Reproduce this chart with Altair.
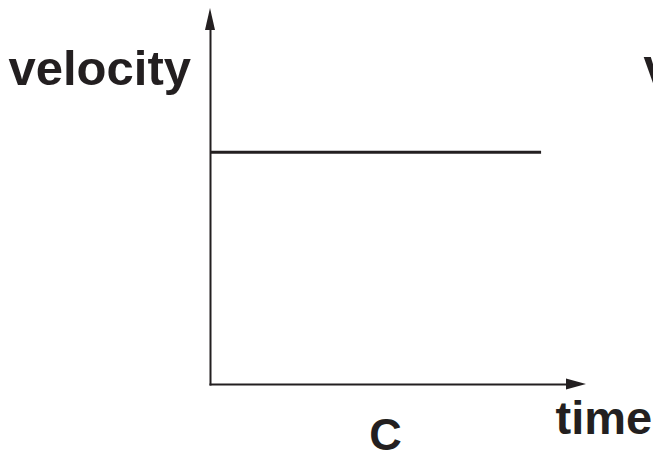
import altair as alt
import pandas as pd

# ---- data ----
time_values = [0.0, 9.3]          # constant-velocity segment, start and end time
velocity_values = [6.55, 6.55]    # velocity stays constant
time_range = [0, 10]              # extent of the time axis (up to arrowhead)
velocity_range = [0, 10]          # extent of the velocity axis (up to arrowhead)
y_title = "velocity"
x_title = "time"
panel_label = "C"
next_panel_title = "velocity"

INK = "#231f20"
FONT = "Liberation Sans"

line_df = pd.DataFrame({"time": time_values, "velocity": velocity_values})
up_df = pd.DataFrame({"time": [time_range[0]], "velocity": [velocity_range[1]]})
right_df = pd.DataFrame({"time": [time_range[1]], "velocity": [velocity_range[0]]})

xs = alt.Scale(domain=time_range, nice=False, zero=False)
ys = alt.Scale(domain=velocity_range, nice=False, zero=False)


def title_axis(orient, title, size, tx, ty, align, domain):
    return alt.Axis(
        orient=orient, title=title, domain=domain, domainColor=INK,
        domainWidth=2, domainCap="square", ticks=False, labels=False,
        grid=False, titleFont=FONT, titleFontSize=size,
        titleFontWeight="bold", titleColor=INK, titleAngle=0,
        titleAlign=align, titleBaseline="alphabetic", titleX=tx, titleY=ty,
        titleLimit=1000,
    )


line = alt.Chart(line_df).mark_line(color=INK, strokeWidth=3).encode(
    x=alt.X("time:Q", scale=xs,
            axis=title_axis("bottom", x_title, 47, 345, 49, "left", True)),
    y=alt.Y("velocity:Q", scale=ys,
            axis=title_axis("left", y_title, 49, -202, 54, "left", True)),
)

up_arrow = alt.Chart(up_df).mark_point(
    shape="M0,-2L0.4545,0L-0.4545,0Z", size=484, filled=True, opacity=1,
    color=INK, strokeWidth=0,
).encode(
    x=alt.X("time:Q", scale=xs,
            axis=title_axis("top", panel_label, 45, 175, 419, "center", False)),
    y=alt.Y("velocity:Q", scale=ys,
            axis=title_axis("right", next_panel_title, 49, 77, 52, "left", False)),
)

right_arrow = alt.Chart(right_df).mark_point(
    shape="M2,0L0,-0.55L0,0.55Z", size=400, filled=True, opacity=1,
    color=INK, strokeWidth=0,
).encode(
    x=alt.X("time:Q", scale=xs, axis=None),
    y=alt.Y("velocity:Q", scale=ys, axis=None),
)

chart = alt.layer(line, up_arrow, right_arrow).resolve_axis(
    x="independent", y="independent"
).properties(
    width=356, height=354,
    autosize=alt.AutoSizeParams(type="none"),
    padding={"left": 202, "top": 22, "right": 87, "bottom": 67},
    background="white",
).configure_view(strokeWidth=0)

chart.save("out.html", embed_options={"renderer": "svg", "actions": False})
